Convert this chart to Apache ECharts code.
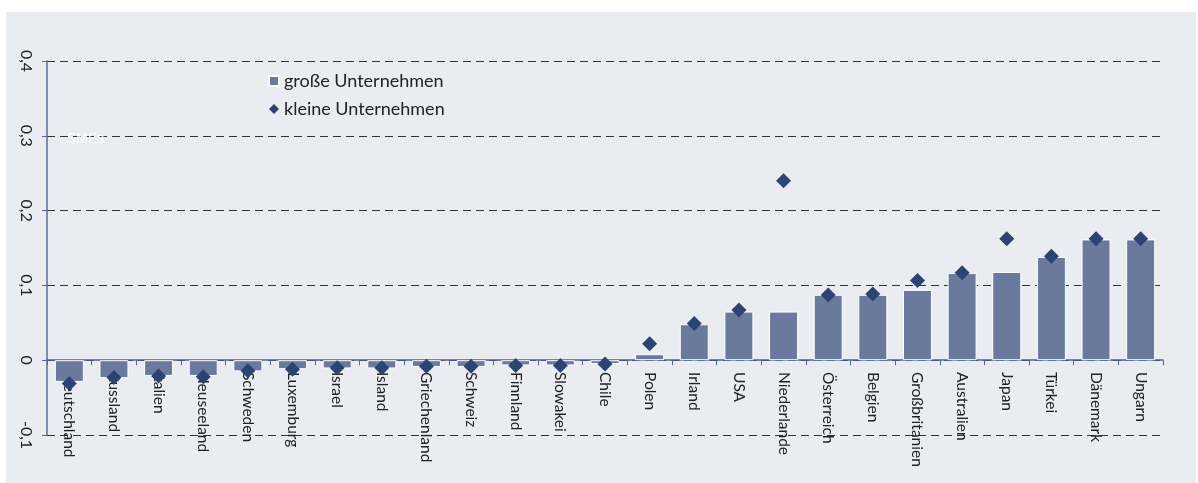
<!DOCTYPE html>
<html>
<head>
<meta charset="utf-8">
<script src="https://cdn.jsdelivr.net/npm/echarts@6/dist/echarts.min.js"></script>
<style>
	html, body { margin: 0; padding: 0; background: #fff; }
	#bg { position: absolute; left: 6px; top: 12px; width: 1190px; height: 471px; background: #e9ecf1; }
	#chart { position: absolute; left: 0; top: 0; width: 1198px; height: 483px; }
</style>
</head>
<body>
<div id="bg"></div>
<div id="chart"></div>
<script>
var countries = ['Deutschland', 'Russland', 'Italien', 'Neuseeland', 'Schweden', 'Luxemburg', 'Israel', 'Island',
	'Griechenland', 'Schweiz', 'Finnland', 'Slowakei', 'Chile', 'Polen', 'Irland', 'USA', 'Niederlande',
	'Österreich', 'Belgien', 'Großbritanien', 'Australien', 'Japan', 'Türkei', 'Dänemark', 'Ungarn'];

// große Unternehmen (Balken)
var large = [-0.029, -0.024, -0.021, -0.021, -0.015, -0.012, -0.011, -0.011,
	-0.009, -0.009, -0.007, -0.007, -0.005, 0.008, 0.048, 0.065, 0.065,
	0.0875, 0.0875, 0.094, 0.1165, 0.118, 0.138, 0.1615, 0.1615];

// kleine Unternehmen (Rauten)
var small = [-0.031, -0.023, -0.021, -0.022, -0.014, -0.012, -0.010, -0.010,
	-0.008, -0.008, -0.007, -0.007, -0.005, 0.022, 0.049, 0.067, 0.240,
	0.087, 0.0885, 0.1065, 0.117, 0.1625, 0.139, 0.1625, 0.1625];

var yTicks = [-0.1, 0, 0.1, 0.2, 0.3, 0.4];

var myChart = echarts.init(document.getElementById('chart'));
var fontName = 'Lato';

var option = {
	backgroundColor: 'transparent',
	animation: false,
	textStyle: { fontFamily: fontName },
	grid: { left: 47, right: 35, top: 61, bottom: 48, containLabel: false, outerBoundsMode: 'none' },
	legend: {
		orient: 'vertical',
		left: 263,
		top: 67,
		itemGap: 10,
		itemWidth: 10,
		itemHeight: 10,
		textStyle: { fontSize: 18, color: '#222', fontFamily: fontName },
		data: [
			{ name: 'große Unternehmen', icon: 'path://M1,1L9,1L9,9L1,9Z' },
			{ name: 'kleine Unternehmen', icon: 'diamond' }
		]
	},
	graphic: [{
		type: 'text',
		left: 67,
		top: 132,
		z: 100,
		style: { text: 'SMEs', fill: '#ffffff', fontSize: 14, fontFamily: 'Liberation Sans' }
	}],
	xAxis: {
		type: 'category',
		data: countries,
		axisLine: { onZero: true, lineStyle: { color: '#4f6494', width: 1.5 } },
		axisTick: { show: true, length: 5, lineStyle: { color: '#4f6494' } },
		axisLabel: {
			interval: 0,
			rotate: -90,
			margin: -63,
			fontSize: 15.5,
			color: '#222',
			fontFamily: fontName
		},
		splitLine: { show: false }
	},
	yAxis: {
		type: 'value',
		min: yTicks[0],
		max: yTicks[yTicks.length - 1],
		interval: 0.1,
		axisLine: { show: true, onZero: false, lineStyle: { color: '#5a6d98', width: 1.5 } },
		axisTick: { show: true, length: 5, lineStyle: { color: '#4f6494' } },
		axisLabel: {
			rotate: -90,
			margin: 13,
			fontSize: 16,
			color: '#222',
			fontFamily: fontName,
			formatter: function(v) {
				var s = (Math.round(v * 10) / 10).toString();
				return s.replace('.', ',');
			}
		},
		splitLine: {
			show: true,
			lineStyle: { color: '#333', type: [8, 5], width: 1 }
		}
	},
	series: [{
			name: 'große Unternehmen',
			type: 'bar',
			data: large,
			barWidth: 29,
			itemStyle: {
				color: '#6a7a9c',
				borderColor: '#ffffff',
				borderWidth: 1
			},
			z: 2
		},
		{
			name: 'kleine Unternehmen',
			type: 'scatter',
			data: small,
			symbol: 'diamond',
			symbolSize: 15,
			itemStyle: { color: '#2b4474', opacity: 1 },
			z: 5
		}
	]
};

myChart.setOption(option);

window.addEventListener('resize', function() {
	myChart.resize();
});
</script>
</body>
</html>
